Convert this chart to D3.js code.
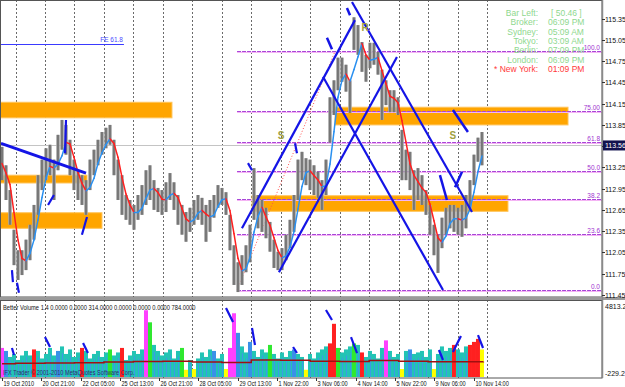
<!DOCTYPE html>
<html>
<head>
<meta charset="utf-8">
<script src="https://cdn.jsdelivr.net/npm/d3@7"></script>
<style>
body{margin:0;background:#fff}
svg{display:block}
text{font-family:"Liberation Sans",Arial,sans-serif}
</style>
</head>
<body>
<svg id="chart" width="625" height="387"></svg>
<script>
// ---- data (USDJPY-like H1, resampled) ----
var hi = [113.54,113.28,112.93,112.37,112.08,112.08,112.23,112.44,112.72,113.14,
          113.36,113.52,113.57,113.36,113.71,113.92,113.85,113.64,113.36,113.21,
          113.14,113.07,113.36,113.50,113.64,113.75,113.81,113.85,113.64,113.36,
          113.14,112.86,112.79,112.72,112.86,113.00,113.21,113.28,113.07,112.96,
          112.93,113.04,113.17,113.04,112.86,112.72,112.62,112.68,112.79,112.86,
          112.82,112.72,112.79,112.86,113.00,112.96,112.90,112.58,112.15,111.91,
          112.01,112.15,112.44,113.24,112.86,112.79,112.68,112.48,112.23,112.06,
          112.11,112.30,112.51,112.86,113.36,113.47,113.38,113.36,113.28,113.19,
          113.07,113.36,114.24,114.48,114.80,114.80,114.70,114.48,115.37,115.26,
          115.02,114.84,115.01,115.01,114.88,114.63,114.48,114.34,114.34,114.24,
          113.78,113.50,113.47,113.21,113.24,113.14,112.93,112.72,112.44,112.30,
          112.54,112.68,112.72,112.72,112.68,112.72,112.86,113.07,113.43,113.67,
          113.75];
var lo = [113.07,112.79,112.44,111.87,111.66,111.73,111.80,111.94,112.23,112.58,
          112.93,113.07,113.14,112.79,113.21,113.50,113.43,113.14,112.93,112.79,
          112.72,112.58,112.93,113.14,113.28,113.43,113.52,113.57,113.14,112.79,
          112.58,112.51,112.44,112.37,112.51,112.58,112.72,112.79,112.65,112.62,
          112.58,112.62,112.79,112.65,112.44,112.30,112.20,112.34,112.44,112.51,
          112.44,112.20,112.34,112.54,112.68,112.72,112.58,112.08,111.59,111.49,
          111.59,111.77,111.91,112.51,112.39,112.34,112.25,112.06,111.83,111.80,
          111.80,111.94,112.11,112.34,112.79,113.07,113.00,112.93,112.86,112.82,
          112.65,112.86,113.60,113.99,114.34,114.46,114.32,114.02,114.91,114.84,
          114.60,114.46,114.65,114.70,114.56,113.92,114.13,114.03,114.03,113.99,
          113.07,113.07,112.93,112.65,112.79,112.72,112.58,112.30,112.01,111.76,
          112.11,112.30,112.39,112.34,112.30,112.27,112.39,112.65,113.00,113.33,
          113.28];
var STEP = 3.257;   // trading hours per resampled bar

var vol = [1700,1500,1100,1300,900,1200,1500,1200,1600,1500,
           1000,1300,1700,1200,1500,1800,1300,1600,1100,1400,
           1700,1500,1000,1300,1500,1100,1400,1600,1200,1400,
           1700,900,1200,1500,1300,1600,4200,3400,1900,1500,
           1200,1400,1600,1000,1500,1700,250,900,300,1000,
           1400,1100,1600,1500,1000,1300,300,1700,4000,2700,
           1800,1400,2100,1500,1100,1600,1400,1900,1300,1000,
           1400,1100,1500,1600,1300,1100,250,1300,1000,1400,
           1600,1800,2000,3300,1700,1400,1600,1800,2000,1900,
           1400,1100,1500,1300,1000,1700,2200,1500,1100,1300,
           300,1500,1600,1300,1400,1500,1100,1600,300,1300,
           1800,1500,1700,1900,1600,1400,1800,1900,2100,2300,
           1600];
var volType = ("mbnnnnnnrn" + "nnnnbnnnnn" + "rnnnnnngnn" + "rnnnnnmgnn" +
               "nnnnngynyn" + "nnnbnnymmb" + "nnbnnnngnn" + "nnnbnnynnn" +
               "nnrrgnnngn" + "rnnnnnmnnn" + "ynbnnnnnyn" + "nnnrnnnrrr" + "y").split("");
// volume average line, read at each day start
var volAvgHours = [0,11,35,59,83,107,131,155,179,203,227,251,275,299,323,347,371,392];
var volAvg = [650,680,700,720,760,800,820,760,740,900,880,820,800,860,820,790,780,784];

var timeLabels = ["19 Oct 2010","20 Oct 21:00","22 Oct 05:00","25 Oct 13:00","26 Oct 21:00",
                  "28 Oct 05:00","29 Oct 13:00","1 Nov 22:00","3 Nov 06:00","4 Nov 14:00",
                  "5 Nov 22:00","9 Nov 06:00","10 Nov 14:00"];
var labelHours = [0,32,64,96,128,160,192,224,256,288,320,352,384];
var dayHours = [11,35,59,83,107,131,155,179,203,227,251,275,299,323,347,371,395];
var priceTicks = [111.45,111.75,112.05,112.35,112.65,112.95,113.25,113.55,113.85,114.15,114.45,114.75,115.05,115.35];
var bid = 113.56;

var fibLevels = [0, 23.6, 38.2, 50, 61.8, 75, 100];
var fibText = ["0.0","23.6","38.2","50.0","61.8","75.00","100.0"];
var fibLow = [191.4, 111.52], fibHigh = [271.2, 114.89];

// supply / demand boxes: hour from, hour to, price top, price bottom
var zones = [[-2,138.4,114.17,113.95],[-2,69.2,113.14,113.03],[-2,81.4,112.61,112.39],
             [271.2,460.9,114.10,113.85],[203.6,412,112.85,112.63]];
// trend lines: h1,p1,h2,p2,width
var trendLines = [[-0.8,113.59,68.4,113.17,3],
                  [195.4,112.39,287.4,115.33,2.2],[225.5,111.77,321.6,114.81,2.2],
                  [285,115.586,382.7,112.62,2.2],[261.4,114.53,359.1,111.52,2.2],
                  [8.1,111.80,8.9,111.63,2.2],[12.2,111.62,13.8,111.48,2.2],
                  [37.5,112.72,42.3,112.86,2.2],[51.3,113.45,52.1,113.92,2.2],
                  [65.1,112.30,69.2,112.55,2.2],[200.3,113.31,203.6,113.21,2.2],
                  [238.6,113.59,240.2,113.45,2.2],[264.6,115.08,268.7,114.92,2.5],
                  [280.9,115.50,283.4,115.40,2.5],[367.2,114.06,379.4,113.75,2.5],
                  [356.6,113.14,362.3,112.79,2.5],[368.9,112.97,374.6,113.19,2.5]];
var feLine = [-2, 99.3, 114.99];
var marks = [["S",227.2,113.71],["S",367.2,113.71],["R",295.6,115.23]];
// lines drawn in the volume window: h1,v1,h2,v2
var volLines = [[8.1,1694,9.8,1230],[35,2423,39.1,1760],[66,2025,70,1362],
                [182.4,4345,188.1,3417],[203.6,3020,206,1892],[237,1760,240.2,1362],
                [263.8,4213,268.7,3550],[284.2,2423,289.1,1362],[355.8,1561,359.1,898],
                [367.2,1428,373.7,2489],[387.6,2555,391.7,1694]];

var infoLabels = ["Bar Left:","Broker:","Sydney:","Tokyo:","Berlin:","London:","* New York:"];
var infoValues = ["[ 50.46 ]","06:09 PM","05:09 AM","03:09 AM","07:09 PM","06:09 PM","01:09 PM"];

// ---- layout ----
var plotR = 602, mainBot = 297, indTop = 300, indBot = 378;
var svg = d3.select("#chart");
var x = d3.scaleLinear().domain([0, 392]).range([2, 483.4]);
var y = d3.scaleLinear().domain([111.42, 115.60]).range([297, 1]);
var yv = d3.scaleLinear().domain([-229.2, 4813.2]).range([377, 301]);

svg.append("rect").attr("width", 625).attr("height", 387).attr("fill", "#fff");

var defs = svg.append("defs");
defs.append("clipPath").attr("id", "cm").append("rect")
    .attr("x", 0).attr("y", 0).attr("width", plotR).attr("height", mainBot);
defs.append("clipPath").attr("id", "ci").append("rect")
    .attr("x", 0).attr("y", indTop).attr("width", plotR).attr("height", indBot - indTop);

var main = svg.append("g").attr("clip-path", "url(#cm)");
var ind = svg.append("g").attr("clip-path", "url(#ci)");

// grid
[[main, 0, mainBot], [ind, indTop, indBot]].forEach(function(p){
    p[0].selectAll("line.grid").data(dayHours).enter().append("line")
        .attr("class", "grid")
        .attr("x1", function(d){ return Math.round(x(d)) + 0.5; })
        .attr("x2", function(d){ return Math.round(x(d)) + 0.5; })
        .attr("y1", p[1]).attr("y2", p[2])
        .attr("stroke", "#6a6a6a").attr("stroke-dasharray", "2,2");
});

// zones
main.selectAll("rect.zone").data(zones).enter().append("rect")
    .attr("x", function(d){ return x(d[0]); })
    .attr("width", function(d){ return x(d[1]) - x(d[0]); })
    .attr("y", function(d){ return y(d[2]); })
    .attr("height", function(d){ return y(d[3]) - y(d[2]); })
    .attr("fill", "#ffa500").attr("stroke", "#ffc45a").attr("stroke-width", 1);

// fibo levels
var fibY = function(l){ return fibLow[1] + (fibHigh[1] - fibLow[1]) * l / 100; };
fibLevels.forEach(function(l, i){
    var yy = Math.round(y(fibY(l))) + 0.5;
    main.append("line").attr("x1", x(fibLow[0])).attr("x2", plotR)
        .attr("y1", yy + 1).attr("y2", yy + 1).attr("stroke", "#f4b4f4");
    main.append("line").attr("x1", x(fibLow[0])).attr("x2", plotR)
        .attr("y1", yy).attr("y2", yy).attr("stroke", "#a845d8").attr("stroke-dasharray", "4,1");
    main.append("text").text(fibText[i])
        .attr("x", 600).attr("y", yy - 1.5)
        .attr("text-anchor", "end").attr("font-size", 6.5).attr("fill", "#a033d0");
});
main.append("line")
    .attr("x1", x(fibLow[0])).attr("y1", y(fibLow[1]))
    .attr("x2", x(fibHigh[0])).attr("y2", y(fibHigh[1]))
    .attr("stroke", "#ff5050").attr("stroke-dasharray", "1,2");

// FE line
main.append("line").attr("x1", x(feLine[0])).attr("x2", x(feLine[1]))
    .attr("y1", Math.round(y(feLine[2])) + 0.5).attr("y2", Math.round(y(feLine[2])) + 0.5)
    .attr("stroke", "#3a3aff");
main.append("text").text("FE 61.8").attr("x", x(feLine[1]) - 1).attr("y", y(feLine[2]) - 2)
    .attr("text-anchor", "end").attr("font-size", 6.5).attr("fill", "#4a4aff");

// bid line
main.append("line").attr("x1", 0).attr("x2", plotR)
    .attr("y1", Math.round(y(bid)) + 0.5).attr("y2", Math.round(y(bid)) + 0.5)
    .attr("stroke", "#c4c4c4");

// price bars
var bars = main.selectAll("g.bar").data(hi).enter().append("g").attr("class", "bar");
bars.append("rect")
    .attr("x", function(d, i){ return x(i * STEP) - 1.8; })
    .attr("width", 3.6)
    .attr("y", function(d){ return y(d); })
    .attr("height", function(d, i){ return y(lo[i]) - y(d); })
    .attr("fill", "#a6a6a6");
bars.append("line")
    .attr("x1", function(d, i){ return x(i * STEP); })
    .attr("x2", function(d, i){ return x(i * STEP); })
    .attr("y1", function(d){ return y(d); })
    .attr("y2", function(d, i){ return y(lo[i]); })
    .attr("stroke", "#4a4a4a");

// colour-switching moving average
var mid = hi.map(function(d, i){ return (d + lo[i]) / 2; });
var ma = mid.map(function(d, i){
    var s = mid.slice(Math.max(0, i - 2), i + 1);
    return d3.mean(s);
});
for (var i = 1; i < ma.length; i++){
    main.append("line")
        .attr("x1", x((i - 1) * STEP)).attr("y1", y(ma[i - 1]))
        .attr("x2", x(i * STEP)).attr("y2", y(ma[i]))
        .attr("stroke", ma[i] < ma[i - 1] ? "#ff2020" : "#2a90f0")
        .attr("stroke-width", 1.5).attr("stroke-linecap", "round");
}

// trend lines
main.selectAll("line.trend").data(trendLines).enter().append("line")
    .attr("x1", function(d){ return x(d[0]); }).attr("y1", function(d){ return y(d[1]); })
    .attr("x2", function(d){ return x(d[2]); }).attr("y2", function(d){ return y(d[3]); })
    .attr("stroke", "#1414e6").attr("stroke-width", function(d){ return d[4]; });

// S / R marks
main.selectAll("text.mark").data(marks).enter().append("text")
    .text(function(d){ return d[0]; })
    .attr("x", function(d){ return x(d[1]); }).attr("y", function(d){ return y(d[2]) + 4; })
    .attr("text-anchor", "middle").attr("font-size", 10).attr("font-weight", "bold")
    .attr("fill", "#a0a040");

// clock info
infoLabels.forEach(function(t, i){
    var c = i == 6 ? "#ff3a3a" : "#8ed88e";
    main.append("text").text(t).attr("x", 538).attr("y", 16 + i * 9.3)
        .attr("text-anchor", "end").attr("font-size", 8.5).attr("fill", c);
    main.append("text").text(infoValues[i]).attr("x", i == 0 ? 551 : 548).attr("y", 16 + i * 9.3)
        .attr("font-size", 8.5).attr("fill", c);
});

// ---- volume window ----
var vColor = {n:"#22c4b4", b:"#3a90e8", g:"#30e830", r:"#ff2020", m:"#ff40ff", y:"#ffff00"};
var vBase = yv.range()[0];
ind.selectAll("rect.vol").data(vol).enter().append("rect")
    .attr("x", function(d, i){ return x(i * STEP) - 2; })
    .attr("width", 4)
    .attr("y", function(d){ return yv(d); })
    .attr("height", function(d){ return vBase - yv(d); })
    .attr("fill", function(d, i){ return vColor[volType[i]]; });
ind.selectAll("line.vs").data(vol).enter().append("line")
    .attr("x1", function(d, i){ return x(i * STEP) + 0.5; })
    .attr("x2", function(d, i){ return x(i * STEP) + 0.5; })
    .attr("y1", function(d){ return yv(d * 0.75); })
    .attr("y2", vBase)
    .attr("stroke", function(d, i){ return volType[i] == "n" ? "#3c9ae8" : vColor[volType[i]]; });

ind.append("path").datum(volAvg)
    .attr("d", d3.line().x(function(d, i){ return x(volAvgHours[i]); }).y(function(d){ return yv(d); })
        .curve(d3.curveStepAfter))
    .attr("fill", "none").attr("stroke", "#a01010").attr("stroke-width", 1.5);

ind.selectAll("line.vl").data(volLines).enter().append("line")
    .attr("x1", function(d){ return x(d[0]); }).attr("y1", function(d){ return yv(d[1]); })
    .attr("x2", function(d){ return x(d[2]); }).attr("y2", function(d){ return yv(d[3]); })
    .attr("stroke", "#1414e6").attr("stroke-width", 2.2);

function squeeze(sel, k){
    sel.each(function(){
        var w = this.getComputedTextLength();
        d3.select(this).attr("textLength", w * k).attr("lengthAdjust", "spacingAndGlyphs");
    });
}
ind.append("text").text("Better Volume 1.4 0.0000 0.0000 314.0000 0.0000 0.0000 0.0000 784.0000")
    .attr("x", 3).attr("y", 310).attr("font-size", 7).attr("fill", "#111").call(squeeze, 0.82);
ind.append("text").text("IFX Trader \u00a9 2001-2010 MetaQuotes Software Corp.")
    .attr("x", 3).attr("y", 375).attr("font-size", 7).attr("fill", "#30306a").call(squeeze, 0.8);

// ---- frames and axes ----
svg.append("rect").attr("x", 0.5).attr("y", 0.5).attr("width", plotR - 0.5).attr("height", mainBot - 0.5)
    .attr("fill", "none").attr("stroke", "#555");
svg.append("rect").attr("x", 0).attr("y", mainBot).attr("width", 625).attr("height", indTop - mainBot)
    .attr("fill", "#9a9a9a");
svg.append("rect").attr("x", 0.5).attr("y", indTop + 0.5).attr("width", plotR - 0.5).attr("height", indBot - indTop - 0.5)
    .attr("fill", "none").attr("stroke", "#555");
svg.append("line").attr("x1", plotR + 0.5).attr("x2", plotR + 0.5).attr("y1", 0).attr("y2", indBot)
    .attr("stroke", "#8a8a8a").attr("stroke-width", 1.5);

priceTicks.forEach(function(p){
    var yy = Math.round(y(p)) + 0.5;
    svg.append("line").attr("x1", plotR).attr("x2", plotR + 3).attr("y1", yy).attr("y2", yy).attr("stroke", "#333");
    svg.append("text").text(p.toFixed(2)).attr("x", 605).attr("y", yy + 2.5)
        .attr("font-size", 7).attr("fill", "#111");
});
svg.append("rect").attr("x", 603).attr("y", y(bid) - 5).attr("width", 22).attr("height", 10).attr("fill", "#12124e");
svg.append("text").text(bid.toFixed(2)).attr("x", 605).attr("y", y(bid) + 2.5)
    .attr("font-size", 7).attr("fill", "#fff");

svg.append("text").text("4813.2").attr("x", 605).attr("y", 309).attr("font-size", 7).attr("fill", "#111");
svg.append("text").text("-229.2").attr("x", 605).attr("y", 376).attr("font-size", 7).attr("fill", "#111");

timeLabels.forEach(function(t, i){
    var xx = Math.round(x(labelHours[i])) + 0.5;
    svg.append("line").attr("x1", xx).attr("x2", xx).attr("y1", indBot).attr("y2", indBot + 3).attr("stroke", "#333");
    svg.append("text").text(t).attr("x", xx + 1).attr("y", 386)
        .attr("font-size", 7).attr("fill", "#111").call(squeeze, 0.8);
});
</script>
</body>
</html>
